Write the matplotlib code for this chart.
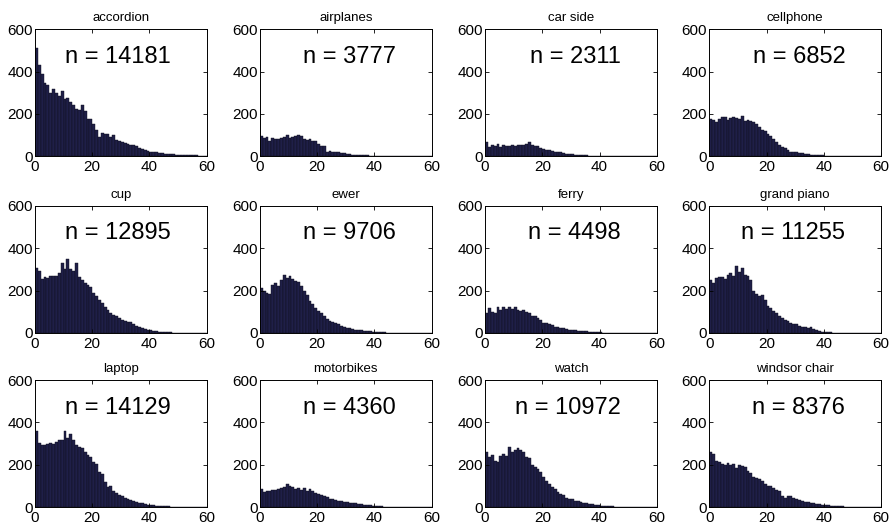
import numpy as np
import matplotlib.pyplot as plt

plt.rcParams['font.family'] = ['Liberation Sans', 'DejaVu Sans']

NBINS = 60

names = ['accordion', 'airplanes', 'car side', 'cellphone',
         'cup', 'ewer', 'ferry', 'grand piano',
         'laptop', 'motorbikes', 'watch', 'windsor chair']
totals = [14181, 3777, 2311, 6852,
          12895, 9706, 4498, 11255,
          14129, 4360, 10972, 8376]

accordion = [510, 430, 390, 345, 335, 300, 320, 300, 285, 310, 270, 275, 255, 240, 225,
             218, 240, 215, 175, 178, 150, 125, 90, 108, 105, 105, 92, 100, 78, 70,
             68, 62, 60, 55, 52, 48, 38, 32, 28, 25, 22, 20, 18, 16, 14,
             12, 11, 10, 9, 8, 8, 7, 6, 6, 5, 5, 4, 3, 2, 1]
airplanes = [95, 88, 90, 70, 88, 80, 82, 88, 90, 100, 85, 92, 95, 100, 95,
             80, 75, 80, 72, 70, 60, 50, 48, 22, 25, 20, 20, 18, 15, 13,
             12, 9, 8, 7, 6, 5, 4, 4, 3, 3, 2, 2, 1, 1, 1, 1]
car_side = [68, 45, 55, 50, 60, 45, 55, 48, 50, 52, 48, 55, 52, 55, 60,
            65, 52, 50, 48, 40, 35, 30, 28, 25, 22, 20, 18, 15, 12, 11,
            10, 8, 7, 6, 5, 4, 3, 3, 2, 2, 2, 1, 1, 1]
cellphone = [175, 170, 160, 175, 185, 185, 170, 180, 185, 180, 178, 190, 168, 172, 165,
             162, 150, 140, 125, 120, 105, 95, 80, 65, 55, 45, 38, 28, 22, 20,
             18, 15, 14, 12, 10, 8, 7, 6, 5, 4, 3, 3, 2, 2, 1, 1, 1, 1]
cup = [305, 295, 255, 265, 262, 268, 270, 270, 285, 330, 300, 350, 300, 295, 330,
       265, 250, 235, 225, 215, 190, 175, 155, 140, 125, 110, 95, 85, 80, 70,
       60, 58, 50, 52, 40, 35, 28, 22, 18, 15, 12, 10, 8, 6, 5, 4, 3, 3, 2, 2, 1, 1, 1]
ewer = [212, 200, 188, 182, 228, 235, 220, 250, 275, 262, 270, 255, 244, 240, 222,
        198, 180, 150, 135, 120, 105, 95, 80, 65, 56, 50, 46, 40, 32, 28,
        25, 22, 18, 16, 14, 12, 10, 8, 7, 6, 5, 4, 3, 3, 2, 2, 1, 1, 1]
ferry = [95, 120, 100, 95, 125, 110, 122, 112, 125, 115, 122, 110, 105, 108, 98,
         92, 80, 78, 70, 62, 48, 45, 42, 38, 30, 28, 25, 22, 20, 16,
         13, 12, 10, 9, 8, 7, 6, 5, 4, 3, 3, 2, 2, 1, 1, 1]
grand_piano = [250, 235, 260, 265, 265, 255, 275, 283, 270, 315, 290, 305, 275, 268, 250,
               196, 182, 175, 180, 158, 128, 118, 102, 92, 78, 70, 63, 55, 47, 44,
               40, 35, 30, 28, 25, 28, 18, 12, 8, 6, 5, 4, 3, 2, 2, 1, 1, 1]
laptop = [360, 305, 292, 295, 300, 305, 300, 308, 315, 318, 360, 325, 345, 315, 295,
          285, 280, 258, 245, 235, 215, 205, 165, 155, 118, 95, 100, 75, 65, 58,
          52, 45, 38, 32, 28, 25, 20, 18, 15, 12, 10, 8, 6, 5, 4, 3, 3, 2, 2, 1, 1, 1]
motorbikes = [85, 72, 75, 78, 80, 82, 85, 88, 95, 108, 100, 95, 85, 92, 82,
              88, 78, 85, 75, 68, 62, 58, 52, 48, 40, 38, 35, 30, 28, 25,
              22, 20, 19, 17, 15, 13, 11, 9, 8, 6, 5, 4, 3, 2, 1, 1, 1]
watch = [260, 237, 245, 220, 212, 242, 253, 240, 285, 262, 268, 277, 270, 262, 238,
         232, 200, 190, 182, 165, 140, 125, 110, 95, 84, 72, 62, 55, 45, 40,
         36, 30, 27, 24, 20, 18, 16, 13, 11, 9, 7, 6, 5, 4, 3, 2, 2, 1, 1, 1]
windsor_chair = [262, 250, 218, 212, 205, 200, 210, 198, 202, 185, 200, 195, 190, 172, 160,
                 140, 135, 132, 125, 110, 100, 98, 92, 80, 75, 52, 45, 50, 52, 42,
                 36, 32, 28, 25, 22, 20, 19, 15, 13, 11, 10, 8, 6, 5, 4, 3, 3, 2, 2, 1, 1, 1]

counts = [accordion, airplanes, car_side, cellphone,
          cup, ewer, ferry, grand_piano,
          laptop, motorbikes, watch, windsor_chair]

fig = plt.figure(figsize=(8.9, 5.26), dpi=100)

lefts = [0.0393, 0.292, 0.545, 0.797]
bottoms = [0.703, 0.367, 0.036]
w, h = 0.193, 0.2414

bins = np.arange(NBINS)
for k, (name, total, c) in enumerate(zip(names, totals, counts)):
    row, col = divmod(k, 4)
    ax = fig.add_axes([lefts[col], bottoms[row], w, h])
    vals = np.zeros(NBINS)
    vals[:len(c)] = c
    ax.bar(bins, vals, width=1.0, align='edge', color='#1f1f48',
           edgecolor='#0d0d1a', linewidth=0.3)
    ax.set_xlim(0, 60)
    ax.set_ylim(0, 600)
    ax.set_xticks([0, 20, 40, 60])
    ax.set_yticks([0, 200, 400, 600])
    ax.tick_params(direction='in', length=3, width=0.6, labelsize=11,
                   top=True, right=True)
    ax.tick_params(axis='y', pad=1.5)
    ax.tick_params(axis='x', pad=3)
    for s in ax.spines.values():
        s.set_linewidth(0.7)
    ax.set_title(name, fontsize=9.5, pad=6)
    ax.text(47.5, 470, f'n = {total}', ha='right', va='center', fontsize=17)

fig.savefig('out.png', dpi=100)
